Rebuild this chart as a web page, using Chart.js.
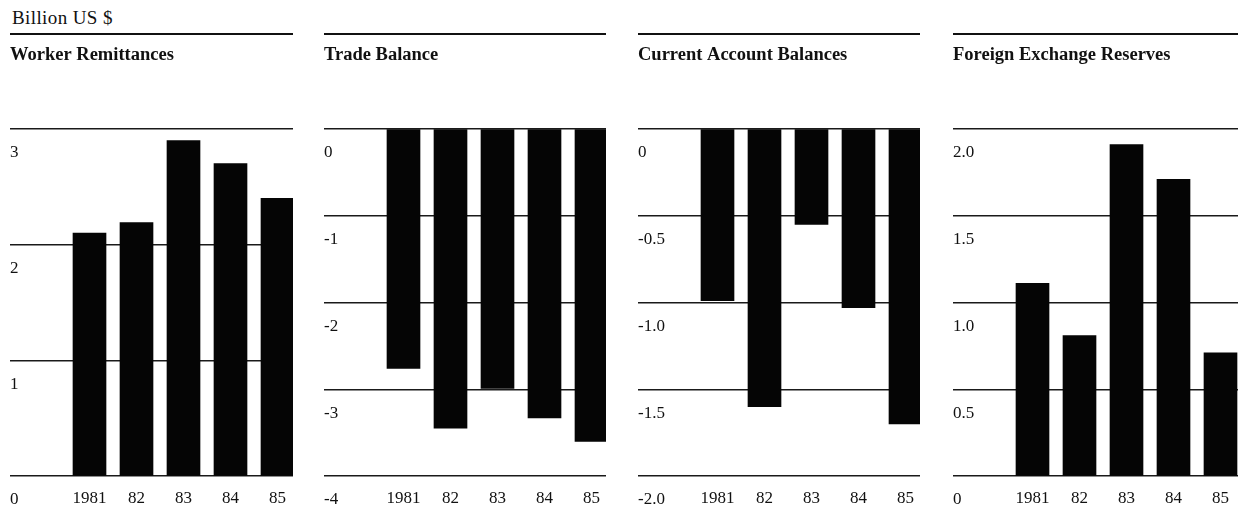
<!DOCTYPE html>
<html><head><meta charset="utf-8">
<script src="https://cdn.jsdelivr.net/npm/chart.js@4.4.0/dist/chart.umd.min.js"></script>
<style>
html,body{margin:0;padding:0;background:#fff;}
body{width:1238px;height:512px;position:relative;overflow:hidden;font-family:'Liberation Serif','Times New Roman',serif;color:#111;}
#unit{position:absolute;left:12px;top:7px;font-size:19px;line-height:22px;letter-spacing:0.4px;}
.rule{position:absolute;top:33px;height:2px;background:#111;}
canvas{position:absolute;top:36px;}
</style></head><body>
<div id="unit">Billion US $</div>
<div class="rule" style="left:10px;width:283px"></div>
<div class="rule" style="left:324px;width:282px"></div>
<div class="rule" style="left:638px;width:282px"></div>
<div class="rule" style="left:953px;width:285px"></div>
<canvas id="c1" width="283" height="476" style="left:10px"></canvas>
<canvas id="c2" width="282" height="476" style="left:324px"></canvas>
<canvas id="c3" width="282" height="476" style="left:638px"></canvas>
<canvas id="c4" width="285" height="476" style="left:953px"></canvas>
<script>
const years = ['1981', '82', '83', '84', '85'];

const remittances = [2.10, 2.19, 2.90, 2.70, 2.40];
const tradeBalance = [-2.76, -3.45, -2.99, -3.33, -3.60];
const currentAccount = [-0.99, -1.60, -0.55, -1.03, -1.70];
const fxReserves = [1.11, 0.81, 1.91, 1.71, 0.71];

const remitTicks = [0, 1, 2, 3];
const remitTickLabels = ['0', '1', '2', '3'];
const tradeTicks = [-4, -3, -2, -1, 0];
const tradeTickLabels = ['-4', '-3', '-2', '-1', '0'];
const caTicks = [-2, -1.5, -1, -0.5, 0];
const caTickLabels = ['-2.0', '-1.5', '-1.0', '-0.5', '0'];
const fxTicks = [0, 0.5, 1, 1.5, 2];
const fxTickLabels = ['0', '0.5', '1.0', '1.5', '2.0'];

const titles = ['Worker Remittances', 'Trade Balance', 'Current Account Balances', 'Foreign Exchange Reserves'];

const FONT = 'Liberation Serif';

function makeChart(id, title, values, tickVals, tickLabels) {
  const canvas = document.getElementById(id);
  const width = canvas.width;
  const pxPerCat = 47, firstCenter = 79.5;
  const xmin = -firstCenter / pxPerCat;
  const xmax = xmin + width / pxPerCat;
  return new Chart(canvas, {
    type: 'bar',
    data: {
      datasets: [{
        data: values.map((v, i) => ({ x: i, y: v })),
        backgroundColor: '#050505',
        borderWidth: 0,
        barThickness: 33
      }]
    },
    options: {
      responsive: false,
      animation: false,
      devicePixelRatio: 1,
      layout: { padding: 0 },
      plugins: {
        legend: { display: false },
        tooltip: { enabled: false },
        title: {
          display: true, text: title, align: 'start', color: '#111',
          font: { family: FONT, size: 18.5, weight: 'bold', lineHeight: 1.2 },
          padding: { top: 8, bottom: 62.8 }
        }
      },
      scales: {
        x: {
          type: 'linear', min: xmin, max: xmax,
          offset: false, bounds: 'data', grace: 0,
          grid: { display: false, drawTicks: false, offset: false },
          border: { display: false },
          afterBuildTicks: s => { s.ticks = years.map((_, i) => ({ value: i })); },
          afterFit: s => { s.height = 36; s.paddingLeft = 0; s.paddingRight = 0; },
          ticks: {
            autoSkip: false, maxRotation: 0, padding: 12, color: '#111', includeBounds: false,
            font: { family: FONT, size: 17 },
            callback: (v, i) => years[i]
          }
        },
        y: {
          min: tickVals[0], max: tickVals[tickVals.length - 1],
          afterBuildTicks: s => { s.ticks = tickVals.map(v => ({ value: v })); },
          afterFit: s => { s.width = 0; s.paddingTop = 0; s.paddingBottom = 0; },
          grid: { color: '#1a1a1a', lineWidth: 1.4, drawTicks: false },
          border: { display: false },
          ticks: {
            mirror: true, padding: 0, labelOffset: 24, autoSkip: false, color: '#111',
            font: { family: FONT, size: 17 },
            callback: (v, i) => tickLabels[i]
          }
        }
      }
    }
  });
}

makeChart('c1', titles[0], remittances, remitTicks, remitTickLabels);
makeChart('c2', titles[1], tradeBalance, tradeTicks, tradeTickLabels);
makeChart('c3', titles[2], currentAccount, caTicks, caTickLabels);
makeChart('c4', titles[3], fxReserves, fxTicks, fxTickLabels);
</script>
</body></html>
